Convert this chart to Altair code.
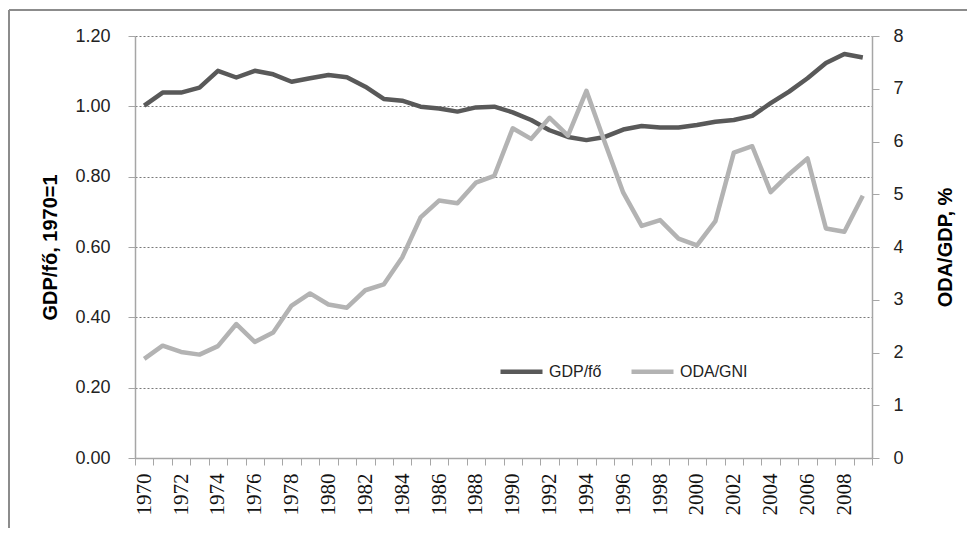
import altair as alt
import pandas as pd

years = list(range(1970, 2010))
gdp = [1.002, 1.039, 1.039, 1.053, 1.101, 1.082, 1.101, 1.091, 1.070, 1.080,
       1.089, 1.083, 1.056, 1.021, 1.016, 0.999, 0.994, 0.985, 0.997, 0.999,
       0.983, 0.961, 0.932, 0.913, 0.904, 0.913, 0.934, 0.944, 0.940, 0.940,
       0.947, 0.956, 0.961, 0.973, 1.009, 1.042, 1.080, 1.123, 1.149, 1.139]
oda = [1.88, 2.13, 2.01, 1.96, 2.12, 2.54, 2.20, 2.38, 2.89, 3.12,
       2.91, 2.85, 3.18, 3.29, 3.80, 4.56, 4.88, 4.83, 5.22, 5.35,
       6.25, 6.05, 6.45, 6.11, 6.96, 5.98, 5.03, 4.40, 4.51, 4.16,
       4.03, 4.49, 5.79, 5.91, 5.04, 5.38, 5.68, 4.35, 4.29, 4.97]
series_names = ["GDP/fő", "ODA/GNI"]
series_colors = ["#595959", "#b3b3b3"]
left_ticks = [0.0, 0.2, 0.4, 0.6, 0.8, 1.0, 1.2]
right_ticks = [0, 1, 2, 3, 4, 5, 6, 7, 8]

df = pd.DataFrame({"year": years, "gdp": gdp, "oda": oda})

W, H = 737, 422
AX = "#a6a6a6"
SANS = "Liberation Sans"

xenc = alt.X(
    "year:O",
    bandPosition=0.5,
    scale=alt.Scale(type="band", paddingInner=0, paddingOuter=0),
    axis=alt.Axis(
        title=None, tickBand="extent", labelAngle=270, labelAlign="right",
        labelBaseline="middle", labelPadding=8, tickSize=7, tickColor=AX,
        domainColor=AX, domainWidth=1.5, labelFont="Liberation Serif",
        labelFontSize=21, labelColor="#111", grid=False,
        labelExpr="datum.value % 2 == 0 ? datum.label : ''",
    ),
)

color = alt.Color(
    "s:N",
    scale=alt.Scale(domain=series_names, range=series_colors),
    legend=alt.Legend(
        title=None, orient="none", legendX=363, legendY=312, direction="horizontal",
        symbolType="stroke", symbolSize=1764, symbolStrokeWidth=4.5,
        labelFont=SANS, labelFontSize=16, labelColor="#222", labelOffset=4,
        columnPadding=20, padding=0,
    ),
)

frame = pd.DataFrame({"a": [0]})
border_top = alt.Chart(frame).mark_rule(stroke="#8c8c8c", strokeWidth=2).encode(
    x=alt.value(-126), x2=alt.value(900), y=alt.value(-26)
)
border_left = alt.Chart(frame).mark_rule(stroke="#8c8c8c", strokeWidth=2).encode(
    x=alt.value(-126), y=alt.value(-26), y2=alt.value(520)
)

gdp_line = alt.Chart(df).transform_calculate(s="'GDP/fő'").mark_line(
    strokeWidth=4.5, strokeJoin="round"
).encode(
    x=xenc,
    y=alt.Y(
        "gdp:Q",
        scale=alt.Scale(domain=[0, 1.2], nice=False, zero=True),
        axis=alt.Axis(
            title="GDP/fő, 1970=1", orient="left", values=left_ticks, format=".2f",
            labelFont=SANS, labelFontSize=18, labelColor="#222", labelPadding=18,
            tickSize=7, tickColor=AX, domainColor=AX, domainWidth=1.5,
            grid=True, gridColor="#7a7a7a", gridDash=[2, 2], gridWidth=1,
            titleFont=SANS, titleFontSize=20, titleFontWeight="bold", titleColor="#000",
            titleX=-85, titleY=211, titleAngle=270, titleAlign="center",
            titleBaseline="middle",
        ),
    ),
    color=color,
)

oda_line = alt.Chart(df).transform_calculate(s="'ODA/GNI'").mark_line(
    strokeWidth=4.5, strokeJoin="round"
).encode(
    x=xenc,
    y=alt.Y(
        "oda:Q",
        scale=alt.Scale(domain=[0, 8], nice=False, zero=True),
        axis=alt.Axis(
            title="ODA/GDP, %", orient="right", values=right_ticks, format="d",
            labelFont=SANS, labelFontSize=18, labelColor="#222", labelPadding=14,
            tickSize=7, tickColor=AX, domainColor=AX, domainWidth=1.5, grid=False,
            titleFont=SANS, titleFontSize=20, titleFontWeight="bold", titleColor="#000",
            titleX=73, titleY=211, titleAngle=270, titleAlign="center",
            titleBaseline="middle",
        ),
    ),
    color=color,
)

chart = alt.layer(border_top, border_left, gdp_line, oda_line).resolve_scale(
    y="independent", color="shared"
).properties(
    width=W, height=H,
    autosize=alt.AutoSizeParams(type="none"),
    padding={"left": 127, "top": 28, "right": 95, "bottom": 70},
    background="white",
).configure_view(strokeWidth=0)

chart.save("out.html", embed_options={"renderer": "svg", "actions": False})
